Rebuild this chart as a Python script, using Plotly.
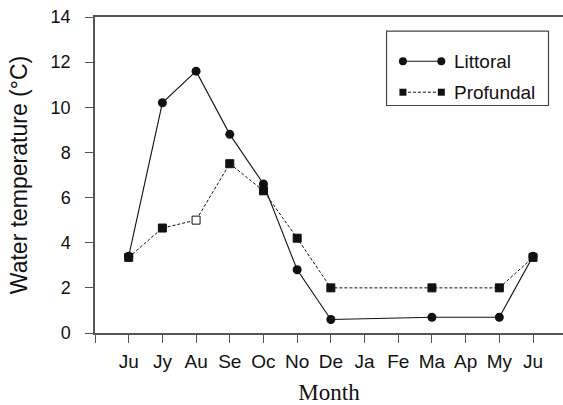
import plotly.graph_objects as go

# Monthly water temperature, June to June
months = ["Ju", "Jy", "Au", "Se", "Oc", "No", "De", "Ja", "Fe", "Ma", "Ap", "My", "Ju"]
littoral = [3.4, 10.2, 11.6, 8.8, 6.6, 2.8, 0.6, None, None, 0.7, None, 0.7, 3.4]
profundal = [3.35, 4.65, 5.0, 7.5, 6.3, 4.2, 2.0, None, None, 2.0, None, 2.0, 3.35]
# August profundal value drawn as an open square
profundal_open = [False, False, True, False, False, False, False, False, False, False, False, False, False]
y_ticks = [0, 2, 4, 6, 8, 10, 12, 14]

x_pos = list(range(len(months)))
sans = "Liberation Sans, Arial, sans-serif"
serif = "Liberation Serif, Times New Roman, serif"
axis_col = "#555555"

fig = go.Figure()

fig.add_trace(go.Scatter(
    x=x_pos, y=littoral, mode="lines+markers", connectgaps=True,
    line=dict(color="#111111", width=1.1),
    marker=dict(symbol="circle", size=9, color="#111111"),
    showlegend=False,
))
fig.add_trace(go.Scatter(
    x=x_pos, y=profundal, mode="lines+markers", connectgaps=True,
    line=dict(color="#111111", width=1, dash="3px,2px"),
    marker=dict(symbol="square", size=8,
                color=["white" if o else "#111111" for o in profundal_open],
                line=dict(color="#111111", width=1)),
    showlegend=False,
))

# Legend samples on an auxiliary 0..1 axis pair
legend_items = [("Littoral", "circle", "solid", 9, 0.86), ("Profundal", "square", "3px,2px", 8, 0.762)]
for name, sym, dash, msize, yy in legend_items:
    fig.add_trace(go.Scatter(
        x=[0.658, 0.74], y=[yy, yy], xaxis="x2", yaxis="y2",
        mode="lines+markers",
        line=dict(color="#111111", width=1, dash=dash),
        marker=dict(symbol=sym, size=msize - 1, color="#111111"),
        showlegend=False, hoverinfo="skip",
    ))
    fig.add_annotation(x=0.762, y=yy, xref="x2", yref="y2", text=name,
                       showarrow=False, xanchor="left", yanchor="middle",
                       font=dict(family=sans, size=19, color="#111111"))

fig.add_shape(type="rect", xref="x2", yref="y2", x0=0.623, x1=0.969, y0=0.72, y1=0.955,
              line=dict(color="#444444", width=1.2), fillcolor="rgba(0,0,0,0)")

fig.update_layout(
    width=563, height=405,
    margin=dict(l=95, r=0, t=17, b=72),
    paper_bgcolor="white", plot_bgcolor="white",
    xaxis=dict(
        range=[-1, 12.89],
        tickmode="array",
        tickvals=[-1] + x_pos,
        ticktext=[""] + months,
        ticks="outside", ticklen=8, tickwidth=1.2, tickcolor=axis_col,
        showline=True, linecolor=axis_col, linewidth=1.5, mirror=True,
        showgrid=False, zeroline=False,
        ticklabelstandoff=2,
        tickfont=dict(family=sans, size=19, color="#111111"),
        title=dict(text="Month", font=dict(family=serif, size=23, color="#111111"), standoff=17),
    ),
    yaxis=dict(
        range=[0, 14],
        tickmode="array", tickvals=y_ticks,
        ticks="outside", ticklen=8, tickwidth=1.2, tickcolor=axis_col,
        showline=True, linecolor=axis_col, linewidth=1.5,
        showgrid=False, zeroline=False,
        ticklabelstandoff=11,
        tickfont=dict(family=sans, size=18, color="#111111"),
        title=dict(text="Water temperature (°C)", font=dict(family=sans, size=23, color="#111111"), standoff=17),
    ),
    xaxis2=dict(domain=[0, 1], range=[0, 1], visible=False, overlaying="x"),
    yaxis2=dict(domain=[0, 1], range=[0, 1], visible=False, overlaying="y"),
)

fig.write_html("out.html")
